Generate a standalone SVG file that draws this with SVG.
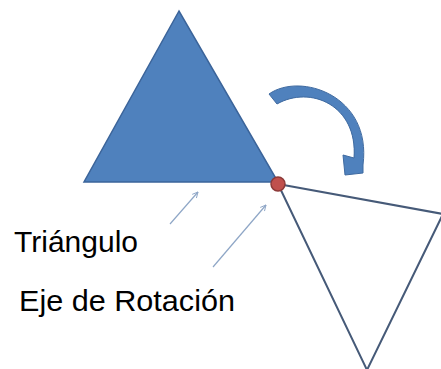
<svg xmlns="http://www.w3.org/2000/svg" width="441" height="369" viewBox="0 0 441 369">
<style>
.lbl{font-family:"Liberation Sans",Arial,sans-serif;font-size:30px;fill:#000}
.ptr{stroke:#8EA6C6;stroke-width:1.2;fill:none;marker-end:url(#ah)}
</style>
<defs>
<marker id="ah" viewBox="0 0 10 10" refX="9" refY="5" markerWidth="7" markerHeight="7" orient="auto" markerUnits="userSpaceOnUse">
<path d="M1 1 L9 5 L1 9" fill="none" stroke="#8EA6C6" stroke-width="1.3"/>
</marker>
</defs>
<rect width="441" height="369" fill="#fff"/>
<g id="rotated-triangle">
<polygon points="278,184 443,214 367,370" fill="none" stroke="#465A78" stroke-width="2"/>
</g>
<g id="triangle">
<polygon points="179,11 84,182 278,182" fill="#4F81BD" stroke="#3B649A" stroke-width="1.5"/>
</g>
<g id="rotation-arrow">
<path d="M269 94 C300 72 372 95 363 165 L363 173 L345 175 L343 155 L354 158 C358 105 310 85 277 104 Z" fill="#4F81BD" stroke="#3F6AA0" stroke-width="1"/>
</g>
<g id="pivot">
<circle cx="278" cy="184" r="7" fill="#C0504D" stroke="#8C3A38" stroke-width="1.5"/>
</g>
<g id="connectors">
<line class="ptr" x1="170" y1="224" x2="198" y2="192"/>
<line class="ptr" x1="213" y1="267" x2="266" y2="205"/>
</g>
<g id="labels">
<text class="lbl" x="14" y="252" textLength="124" lengthAdjust="spacingAndGlyphs">Triángulo</text>
<text class="lbl" x="19" y="311" textLength="216" lengthAdjust="spacingAndGlyphs">Eje de Rotación</text>
</g>
</svg>
